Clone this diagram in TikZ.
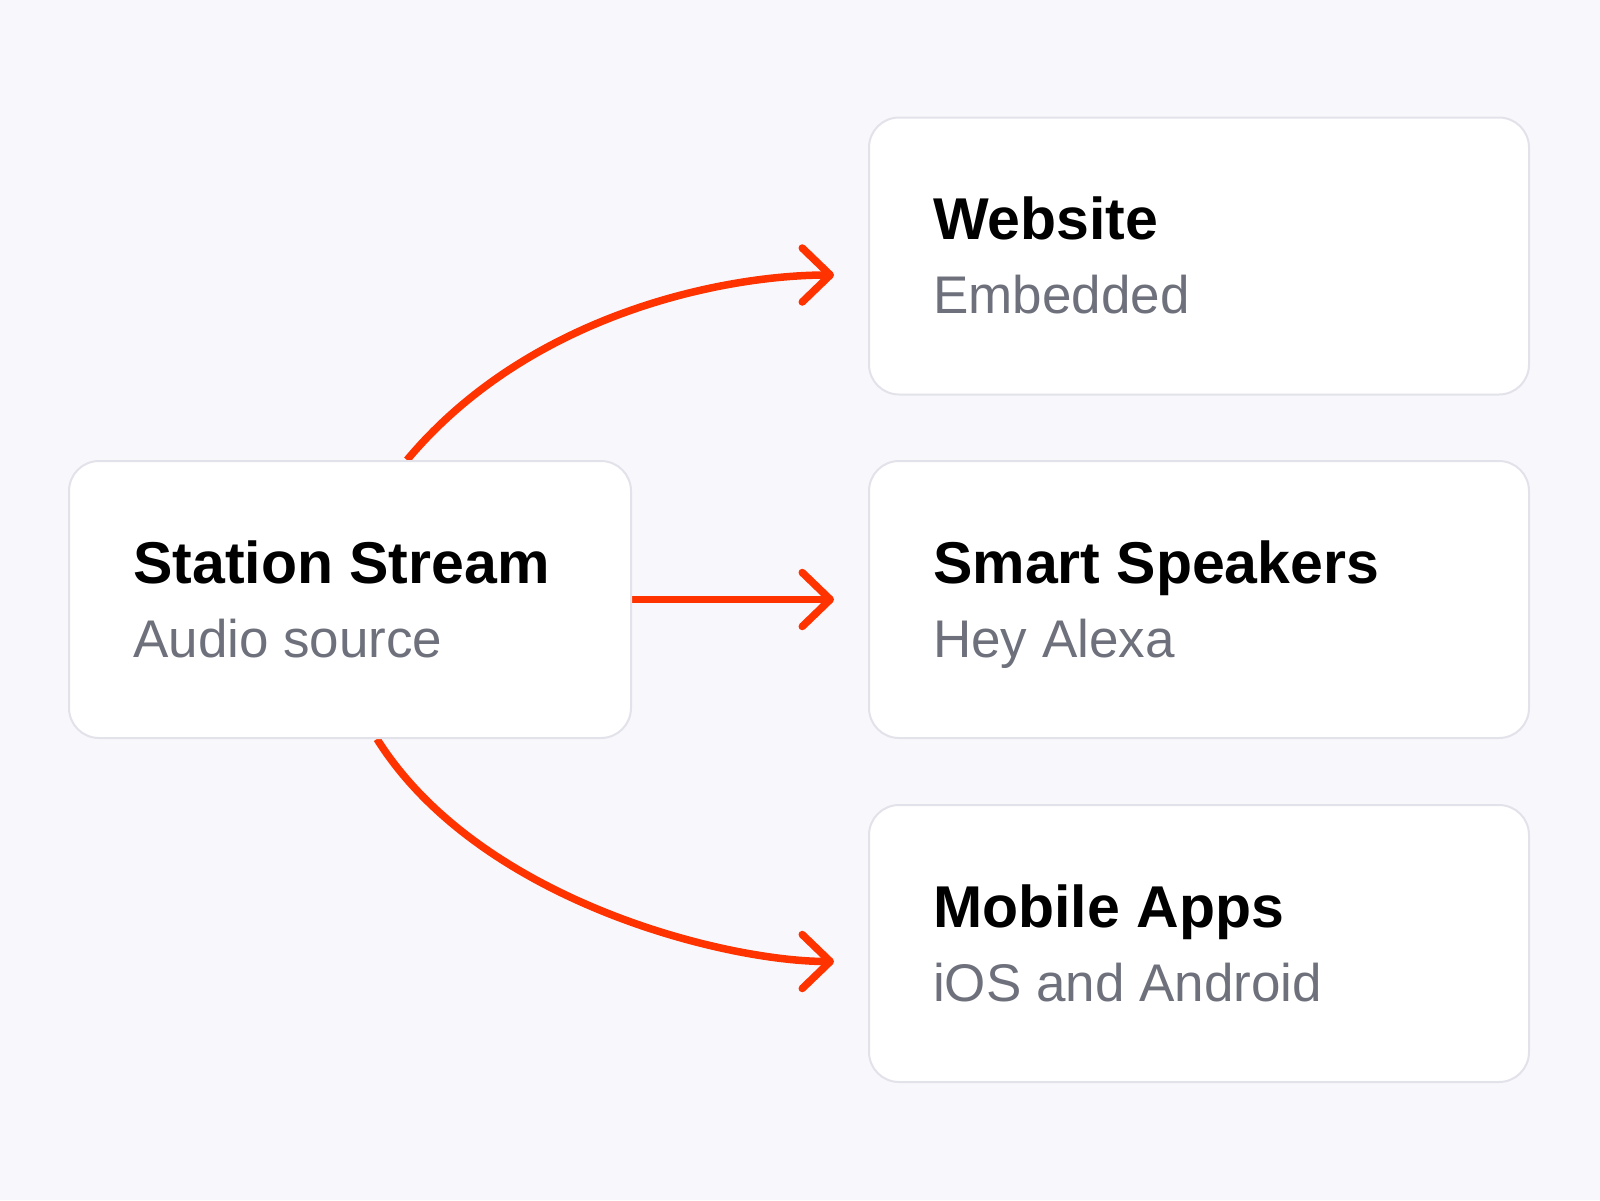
\documentclass[tikz,border=0pt]{standalone}
\usepackage{fontspec}
\setmainfont{Liberation Sans}
\usetikzlibrary{arrows.meta}
\definecolor{bgcol}{HTML}{F8F8FC}
\definecolor{edgecol}{HTML}{E2E2EA}
\definecolor{flow}{HTML}{FF3300}
\definecolor{subcol}{HTML}{6E717C}
\pgfdeclarelayer{canvas}
\pgfdeclarelayer{back}
\pgfsetlayers{canvas,back,main}
\tikzset{
  card/.style={draw=edgecol, line width=2pt, fill=white, rounded corners=30pt, inner sep=0pt},
  title/.style={anchor=base west, inner sep=0pt, font=\fontsize{59}{70}\selectfont\bfseries, text=black},
  sub/.style={anchor=base west, inner sep=0pt, font=\fontsize{53}{60}\selectfont, text=subcol},
  flowline/.style={draw=flow, line width=7.5pt, -{Straight Barb[length=28pt,width=54pt,round]}}
}

\begin{document}
\begin{tikzpicture}[x=1pt, y=-1pt]
    \begin{pgfonlayer}{canvas}
    \fill[bgcol] (0,0) rectangle (1600,1200);
    \end{pgfonlayer}
    % cards
    \node[card, minimum width=562pt, minimum height=277pt] (src) at (350,599.5) {};
    \node[card, minimum width=660pt, minimum height=277pt] (web) at (1199,256) {};
    \node[card, minimum width=660pt, minimum height=277pt] (spk) at (1199,599.5) {};
    \node[card, minimum width=660pt, minimum height=277pt] (app) at (1199,943.5) {};
    % labels
    \node[title] (srcT) at ([xshift=65pt,yshift=-123pt]src.north west) {Station Stream};
    \node[sub] (srcS) at ([xshift=65pt,yshift=-197pt]src.north west) {Audio source};
    \node[title] (webT) at ([xshift=65pt,yshift=-123pt]web.north west) {Website};
    \node[sub] (webS) at ([xshift=65pt,yshift=-197pt]web.north west) {Embedded};
    \node[title] (spkT) at ([xshift=65pt,yshift=-123pt]spk.north west) {Smart Speakers};
    \node[sub] (spkS) at ([xshift=65pt,yshift=-197pt]spk.north west) {Hey Alexa};
    \node[title] (appT) at ([xshift=65pt,yshift=-123pt]app.north west) {Mobile Apps};
    \node[sub] (appS) at ([xshift=65pt,yshift=-197pt]app.north west) {iOS and Android};
    % arrows
    \begin{pgfonlayer}{back}
    \draw[flowline] ([xshift=57pt]src.north) .. controls +(122pt,146pt) and +(-110pt,0pt) .. ([xshift=-34pt,yshift=-19pt]web.west);
    \draw[flowline] (src.east) -- ([xshift=-34pt]spk.west);
    \draw[flowline] ([xshift=27pt]src.south) .. controls +(101pt,-161pt) and +(-110pt,0pt) .. ([xshift=-34pt,yshift=-18pt]app.west);
    \end{pgfonlayer}
\end{tikzpicture}
\end{document}
